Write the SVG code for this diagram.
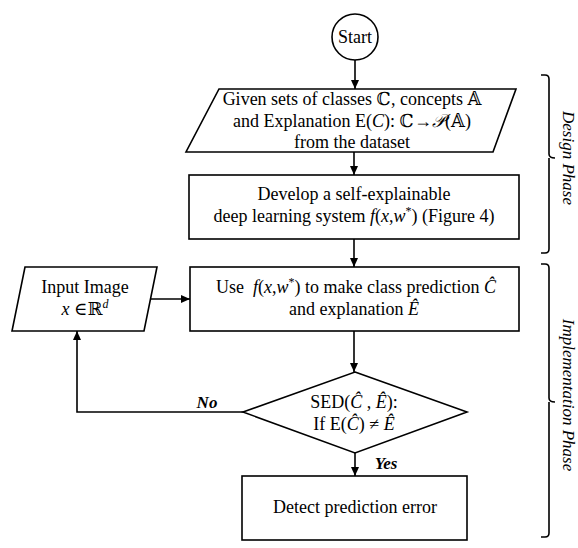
<svg xmlns="http://www.w3.org/2000/svg" width="578" height="548" viewBox="0 0 578 548">
<style>
.s{fill:#fff;stroke:#000;stroke-width:1.6}
.t{font-family:"Liberation Serif","DejaVu Serif",serif;font-size:18px;fill:#000;text-anchor:middle}
.i{font-style:italic}
.b{font-weight:bold;font-style:italic;font-size:17px}
.ph{font-family:"Liberation Serif","DejaVu Serif",serif;font-size:17px;font-style:italic;text-anchor:middle}
.c{fill:none;stroke:#000;stroke-width:1.6}
.sup{font-size:12px}
</style>
<defs>
<marker id="ah" markerUnits="userSpaceOnUse" markerWidth="10" markerHeight="8" refX="9" refY="4" orient="auto">
<path d="M0,0 L9,4 L0,8 z" fill="#000"/>
</marker>
</defs>
<rect width="578" height="548" fill="#fff"/>
<g id="connectors">
<path class="c" d="M355,60 V89" marker-end="url(#ah)"/>
<path class="c" d="M354,152 V175" marker-end="url(#ah)"/>
<path class="c" d="M354,239 V267" marker-end="url(#ah)"/>
<path class="c" d="M150,299 H190" marker-end="url(#ah)"/>
<path class="c" d="M354,331 V372" marker-end="url(#ah)"/>
<path class="c" d="M243,412 H77 V331" marker-end="url(#ah)"/>
<path class="c" d="M355,453 V476" marker-end="url(#ah)"/>
<text class="t b" x="207" y="408">No</text>
<text class="t b" x="386" y="469">Yes</text>
</g>
<g id="start">
<circle class="s" cx="355" cy="37" r="23"/>
<text class="t" x="355" y="43">Start</text>
</g>
<g id="given">
<polygon class="s" points="219,89 516,89 493,152 186,152"/>
<text class="t" x="352" y="105">Given sets of classes ℂ, concepts 𝔸</text>
<text class="t" x="352" y="127">and Explanation E(<tspan class="i">C</tspan>): ℂ→<tspan class="i">𝒫</tspan>(𝔸)</text>
<text class="t" x="352" y="148">from the dataset</text>
</g>
<g id="develop">
<rect class="s" x="189" y="175" width="330" height="64"/>
<text class="t" x="354" y="200">Develop a self-explainable</text>
<text class="t" x="354" y="222">deep learning system <tspan class="i">f</tspan>(<tspan class="i">x</tspan>,<tspan class="i">w</tspan><tspan class="sup" baseline-shift="super">*</tspan>) (Figure 4)</text>
</g>
<g id="input">
<polygon class="s" points="25,267 157,267 144,331 12,331"/>
<text class="t" x="85" y="293">Input Image</text>
<text class="t" x="85" y="315"><tspan class="i">x</tspan> ∈ℝ<tspan class="sup i" baseline-shift="super">d</tspan></text>
</g>
<g id="use">
<rect class="s" x="190" y="267" width="329" height="64"/>
<text class="t" x="356" y="293">Use&#160; <tspan class="i">f</tspan>(<tspan class="i">x</tspan>,<tspan class="i">w</tspan><tspan class="sup" baseline-shift="super">*</tspan>) to make class prediction <tspan class="i">Ĉ</tspan></text>
<text class="t" x="354" y="315">and explanation <tspan class="i">Ê</tspan></text>
</g>
<g id="sed">
<polygon class="s" points="355,372 467,412 355,453 243,412"/>
<text class="t" x="354" y="408">SED(<tspan class="i">Ĉ</tspan> , <tspan class="i">Ê</tspan>):</text>
<text class="t" x="354" y="430">If E(<tspan class="i">Ĉ</tspan>) ≠ <tspan class="i">Ê</tspan></text>
</g>
<g id="detect">
<rect class="s" x="242" y="476" width="225" height="64"/>
<text class="t" x="355" y="513">Detect prediction error</text>
</g>
<g id="design-phase">
<path class="c" d="M541,75 H545 Q549,75 549,79 V154 Q549,158 555,158 M549,158 V249 Q549,253 545,253 H541"/>
<text class="ph" transform="translate(563,158) rotate(90)">Design Phase</text>
</g>
<g id="implementation-phase">
<path class="c" d="M541,264 H545 Q549,264 549,268 V398 Q549,402 555,402 M549,402 V533 Q549,537 545,537 H541"/>
<text class="ph" transform="translate(563,395) rotate(90)">Implementation Phase</text>
</g>
</svg>
